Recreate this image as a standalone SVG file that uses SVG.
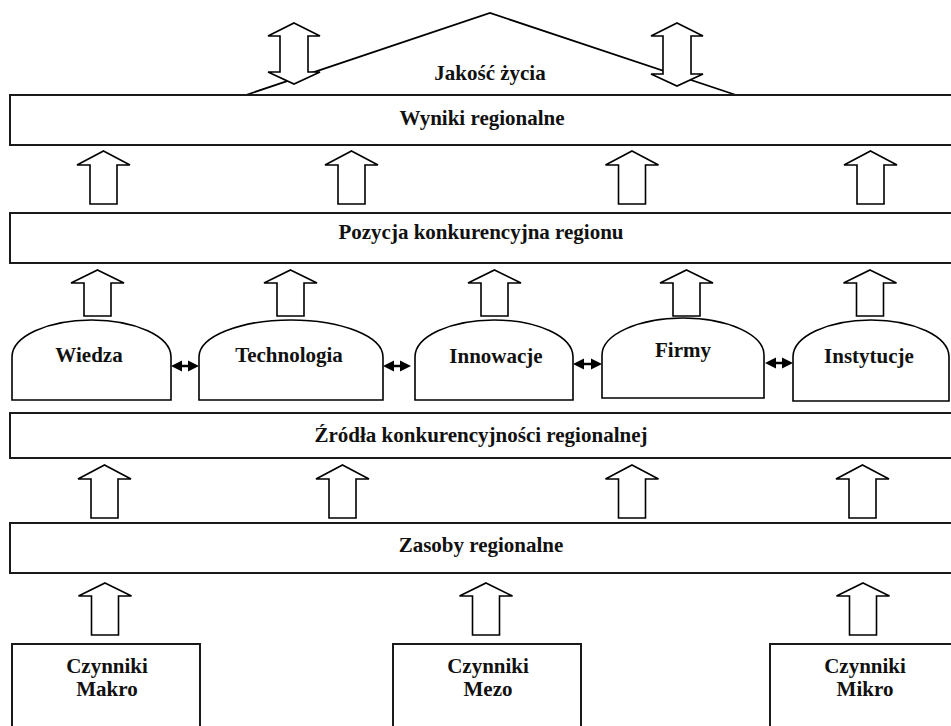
<svg xmlns="http://www.w3.org/2000/svg" width="951" height="726" viewBox="0 0 951 726">
<style>
.box{fill:#fff;stroke:#1a1a1a;stroke-width:2}
.dome{fill:#fff;stroke:#000;stroke-width:1.6}
.arr{fill:#fff;stroke:#000;stroke-width:1.6;stroke-linejoin:miter}
.roof{fill:none;stroke:#000;stroke-width:1.8}
.t{font-family:"Liberation Serif","Times New Roman",serif;font-weight:bold;font-size:21px;fill:#111;text-anchor:middle}
.dbl{fill:#000;stroke:none}
.dl{stroke:#000;stroke-width:2.5}
</style>
<rect width="951" height="726" fill="#fff"/>

<g id="roof">
<polyline class="roof" points="246,95 490,13 736,95"/>
<text class="t" x="490" y="80">Jakość życia</text>
</g>

<g id="wyniki">
<rect class="box" x="10" y="95" width="943" height="50"/>
<text class="t" x="482" y="125">Wyniki regionalne</text>
</g>

<g id="pozycja">
<rect class="box" x="10" y="213" width="943" height="50"/>
<text class="t" x="481" y="239">Pozycja konkurencyjna regionu</text>
</g>

<g id="wiedza">
<path class="dome" d="M12,400 V357 A79.5,37 0 0 1 171,357 V400 Z"/>
<text class="t" x="89" y="362">Wiedza</text>
</g>
<g id="technologia">
<path class="dome" d="M199,400 V357 A92,37 0 0 1 383,357 V400 Z"/>
<text class="t" x="289" y="362">Technologia</text>
</g>
<g id="innowacje">
<path class="dome" d="M415,400 V357 A79,37 0 0 1 573,357 V400 Z"/>
<text class="t" x="496" y="363">Innowacje</text>
</g>
<g id="firmy">
<path class="dome" d="M602,398 V355 A81,37 0 0 1 764,355 V398 Z"/>
<text class="t" x="683" y="357">Firmy</text>
</g>
<g id="instytucje">
<path class="dome" d="M793,401 V357 A78,37 0 0 1 949,357 V401 Z"/>
<text class="t" x="869" y="363">Instytucje</text>
</g>

<g id="zrodla">
<rect class="box" x="10" y="413" width="943" height="45"/>
<text class="t" x="481" y="442">Źródła konkurencyjności regionalnej</text>
</g>

<g id="zasoby">
<rect class="box" x="10" y="523" width="943" height="50"/>
<text class="t" x="481" y="552">Zasoby regionalne</text>
</g>

<g id="makro">
<rect class="box" x="12" y="644" width="188" height="90"/>
<text class="t" x="107" y="673">Czynniki</text>
<text class="t" x="107" y="696">Makro</text>
</g>
<g id="mezo">
<rect class="box" x="393" y="644" width="188" height="90"/>
<text class="t" x="488" y="673">Czynniki</text>
<text class="t" x="488" y="696">Mezo</text>
</g>
<g id="mikro">
<rect class="box" x="770" y="644" width="190" height="90"/>
<text class="t" x="865" y="673">Czynniki</text>
<text class="t" x="865" y="696">Mikro</text>
</g>

<g id="connectors">
<path class="arr" d="M294,23 L320,36 L308,36 L308,72 L320,72 L294,84 L268,72 L280,72 L280,36 L268,36 Z"/>
<path class="arr" d="M677,23 L703,36 L691,36 L691,74 L703,74 L677,86 L651,74 L663,74 L663,36 L651,36 Z"/>

<path class="arr" d="M103.5,151 L130,165 L117,165 L117,204 L90,204 L90,165 L77,165 Z"/>
<path class="arr" d="M351.5,151 L378,165 L365,165 L365,204 L338,204 L338,165 L325,165 Z"/>
<path class="arr" d="M632,151 L658.5,165 L645.5,165 L645.5,204 L618.5,204 L618.5,165 L605.5,165 Z"/>
<path class="arr" d="M870.5,151 L897,165 L884,165 L884,204 L857,204 L857,165 L844,165 Z"/>

<path class="arr" d="M97.5,270 L124,283 L111,283 L111,316 L84,316 L84,283 L71,283 Z"/>
<path class="arr" d="M290.5,270 L317,283 L304,283 L304,316 L277,316 L277,283 L264,283 Z"/>
<path class="arr" d="M494.5,270 L521,283 L508,283 L508,316 L481,316 L481,283 L468,283 Z"/>
<path class="arr" d="M686.5,270 L713,283 L700,283 L700,316 L673,316 L673,283 L660,283 Z"/>
<path class="arr" d="M870,270 L896.5,283 L883.5,283 L883.5,316 L856.5,316 L856.5,283 L843.5,283 Z"/>

<line class="dl" x1="180" y1="366" x2="190" y2="366"/>
<polygon class="dbl" points="171,366 182,360.5 182,371.5"/>
<polygon class="dbl" points="199,366 188,360.5 188,371.5"/>
<line class="dl" x1="392" y1="366" x2="402" y2="366"/>
<polygon class="dbl" points="383,366 394,360.5 394,371.5"/>
<polygon class="dbl" points="411,366 400,360.5 400,371.5"/>
<line class="dl" x1="582" y1="364" x2="593" y2="364"/>
<polygon class="dbl" points="573,364 584,358.5 584,369.5"/>
<polygon class="dbl" points="602,364 591,358.5 591,369.5"/>
<line class="dl" x1="774" y1="363" x2="784" y2="363"/>
<polygon class="dbl" points="765,363 776,357.5 776,368.5"/>
<polygon class="dbl" points="793,363 782,357.5 782,368.5"/>

<path class="arr" d="M104.5,465 L131,479 L118,479 L118,518 L91,518 L91,479 L78,479 Z"/>
<path class="arr" d="M342.5,465 L369,479 L356,479 L356,518 L329,518 L329,479 L316,479 Z"/>
<path class="arr" d="M632,465 L658.5,479 L645.5,479 L645.5,518 L618.5,518 L618.5,479 L605.5,479 Z"/>
<path class="arr" d="M862.5,465 L889,479 L876,479 L876,518 L849,518 L849,479 L836,479 Z"/>

<path class="arr" d="M105,583 L131.5,596 L118.5,596 L118.5,635 L91.5,635 L91.5,596 L78.5,596 Z"/>
<path class="arr" d="M486,583 L512.5,596 L499.5,596 L499.5,635 L472.5,635 L472.5,596 L459.5,596 Z"/>
<path class="arr" d="M863,583 L889.5,596 L876.5,596 L876.5,635 L849.5,635 L849.5,596 L836.5,596 Z"/>
</g>
</svg>
